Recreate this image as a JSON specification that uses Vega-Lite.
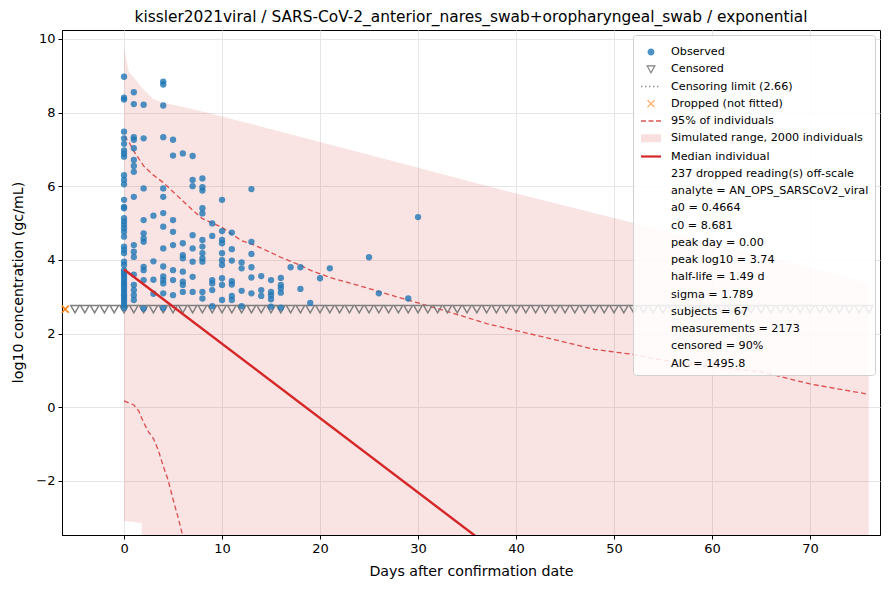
{
  "$schema": "https://vega.github.io/schema/vega-lite/v6.json",
  "width": 818,
  "height": 505,
  "autosize": "none",
  "padding": {"left": 62, "top": 30, "right": 10, "bottom": 55},
  "title": {
    "text": "kissler2021viral / SARS-CoV-2_anterior_nares_swab+oropharyngeal_swab / exponential",
    "fontSize": 15.4,
    "fontWeight": "normal",
    "font": "DejaVu Sans",
    "color": "#000000",
    "offset": 5
  },
  "config": {
    "font": "DejaVu Sans",
    "view": {"stroke": "#000000", "strokeWidth": 1},
    "axis": {
      "labelFont": "DejaVu Sans",
      "labelFontSize": 13,
      "labelColor": "#000000",
      "titleFont": "DejaVu Sans",
      "titleFontSize": 14.2,
      "titleFontWeight": "normal",
      "titleColor": "#000000",
      "gridColor": "#e6e6e6",
      "gridWidth": 1,
      "domainColor": "#000000",
      "tickColor": "#000000",
      "tickSize": 4,
      "labelPadding": 3
    },
    "legend": {
      "labelFont": "DejaVu Sans",
      "labelFontSize": 11.2,
      "labelColor": "#000000",
      "labelLimit": 400
    }
  },
  "datasets": {
    "obs": [
      {"day": 0, "v": 8.97}, {"day": 0, "v": 8.40}, {"day": 0, "v": 8.35}, {"day": 0, "v": 7.48}, {"day": 0, "v": 7.30},
      {"day": 0, "v": 7.15}, {"day": 0, "v": 6.97}, {"day": 0, "v": 6.88}, {"day": 0, "v": 6.80}, {"day": 0, "v": 6.30},
      {"day": 0, "v": 6.17}, {"day": 0, "v": 6.05}, {"day": 0, "v": 5.63}, {"day": 0, "v": 5.44}, {"day": 0, "v": 5.40},
      {"day": 0, "v": 5.13}, {"day": 0, "v": 5.04}, {"day": 0, "v": 4.95}, {"day": 0, "v": 4.86}, {"day": 0, "v": 4.76},
      {"day": 0, "v": 4.63}, {"day": 0, "v": 4.36}, {"day": 0, "v": 4.27}, {"day": 0, "v": 4.18}, {"day": 0, "v": 3.95},
      {"day": 0, "v": 3.86}, {"day": 0, "v": 3.72}, {"day": 0, "v": 3.65}, {"day": 0, "v": 3.59}, {"day": 0, "v": 3.52},
      {"day": 0, "v": 3.45}, {"day": 0, "v": 3.38}, {"day": 0, "v": 3.32}, {"day": 0, "v": 3.25}, {"day": 0, "v": 3.18},
      {"day": 0, "v": 3.11}, {"day": 0, "v": 3.04}, {"day": 0, "v": 2.98}, {"day": 0, "v": 2.91}, {"day": 0, "v": 2.84},
      {"day": 0, "v": 2.77}, {"day": 0, "v": 2.69},
      {"day": 1, "v": 8.55}, {"day": 1, "v": 8.23}, {"day": 1, "v": 7.33}, {"day": 1, "v": 7.26}, {"day": 1, "v": 7.03},
      {"day": 1, "v": 6.71}, {"day": 1, "v": 6.55}, {"day": 1, "v": 6.39}, {"day": 1, "v": 5.71}, {"day": 1, "v": 4.40},
      {"day": 1, "v": 4.22}, {"day": 1, "v": 4.08}, {"day": 1, "v": 3.60}, {"day": 1, "v": 3.32}, {"day": 1, "v": 3.18},
      {"day": 1, "v": 3.04}, {"day": 1, "v": 2.91},
      {"day": 2, "v": 8.21}, {"day": 2, "v": 7.30}, {"day": 2, "v": 5.94}, {"day": 2, "v": 5.08}, {"day": 2, "v": 4.72},
      {"day": 2, "v": 4.58}, {"day": 2, "v": 4.49}, {"day": 2, "v": 3.81}, {"day": 2, "v": 3.72}, {"day": 2, "v": 3.45},
      {"day": 2, "v": 2.68},
      {"day": 3, "v": 5.20}, {"day": 3, "v": 3.96}, {"day": 3, "v": 3.46}, {"day": 3, "v": 3.08},
      {"day": 4, "v": 8.84}, {"day": 4, "v": 8.76}, {"day": 4, "v": 8.19}, {"day": 4, "v": 7.33}, {"day": 4, "v": 5.94},
      {"day": 4, "v": 5.71}, {"day": 4, "v": 5.27}, {"day": 4, "v": 4.90}, {"day": 4, "v": 4.31}, {"day": 4, "v": 3.82},
      {"day": 4, "v": 3.55}, {"day": 4, "v": 3.45}, {"day": 4, "v": 3.36}, {"day": 4, "v": 3.09}, {"day": 4, "v": 2.69},
      {"day": 5, "v": 7.26}, {"day": 5, "v": 6.83}, {"day": 5, "v": 5.08}, {"day": 5, "v": 4.76}, {"day": 5, "v": 4.40},
      {"day": 5, "v": 3.72}, {"day": 5, "v": 3.45}, {"day": 5, "v": 3.04},
      {"day": 6, "v": 6.89}, {"day": 6, "v": 4.45}, {"day": 6, "v": 4.13}, {"day": 6, "v": 4.04}, {"day": 6, "v": 3.68},
      {"day": 6, "v": 3.41}, {"day": 6, "v": 3.32}, {"day": 6, "v": 3.13},
      {"day": 7, "v": 6.82}, {"day": 7, "v": 6.17}, {"day": 7, "v": 6.00}, {"day": 7, "v": 4.67}, {"day": 7, "v": 4.31},
      {"day": 7, "v": 3.95}, {"day": 7, "v": 3.54}, {"day": 7, "v": 3.13},
      {"day": 8, "v": 6.21}, {"day": 8, "v": 5.97}, {"day": 8, "v": 5.88}, {"day": 8, "v": 5.40}, {"day": 8, "v": 5.26},
      {"day": 8, "v": 4.54}, {"day": 8, "v": 4.36}, {"day": 8, "v": 4.18}, {"day": 8, "v": 4.04}, {"day": 8, "v": 3.95},
      {"day": 8, "v": 3.13}, {"day": 8, "v": 2.95},
      {"day": 9, "v": 4.99}, {"day": 9, "v": 4.65}, {"day": 9, "v": 3.45}, {"day": 9, "v": 3.36}, {"day": 9, "v": 3.18},
      {"day": 9, "v": 2.74},
      {"day": 10, "v": 5.63}, {"day": 10, "v": 4.78}, {"day": 10, "v": 4.54}, {"day": 10, "v": 4.45}, {"day": 10, "v": 4.18},
      {"day": 10, "v": 3.99}, {"day": 10, "v": 3.86}, {"day": 10, "v": 3.50}, {"day": 10, "v": 3.32}, {"day": 10, "v": 2.91},
      {"day": 11, "v": 4.74}, {"day": 11, "v": 4.29}, {"day": 11, "v": 3.98}, {"day": 11, "v": 3.42}, {"day": 11, "v": 3.33},
      {"day": 11, "v": 3.02}, {"day": 11, "v": 2.91},
      {"day": 12, "v": 3.93}, {"day": 12, "v": 3.77}, {"day": 12, "v": 3.16}, {"day": 12, "v": 2.74},
      {"day": 13, "v": 5.92}, {"day": 13, "v": 4.49}, {"day": 13, "v": 4.16}, {"day": 13, "v": 3.80}, {"day": 13, "v": 3.52},
      {"day": 13, "v": 3.09},
      {"day": 14, "v": 3.56}, {"day": 14, "v": 3.18}, {"day": 14, "v": 3.02},
      {"day": 15, "v": 3.45}, {"day": 15, "v": 3.13}, {"day": 15, "v": 3.04}, {"day": 15, "v": 2.93}, {"day": 15, "v": 2.73},
      {"day": 16, "v": 3.51}, {"day": 16, "v": 3.32}, {"day": 16, "v": 3.23}, {"day": 16, "v": 3.11}, {"day": 16, "v": 2.70},
      {"day": 17, "v": 3.80}, {"day": 18, "v": 3.80}, {"day": 18, "v": 3.21}, {"day": 19, "v": 2.83},
      {"day": 20, "v": 3.50}, {"day": 21, "v": 3.77}, {"day": 25, "v": 4.07}, {"day": 26, "v": 3.09},
      {"day": 29, "v": 2.95}, {"day": 30, "v": 5.16}
    ],
    "cens": [
      {"day": -5}, {"day": -4}, {"day": -3}, {"day": -2}, {"day": -1}, {"day": 0}, {"day": 1}, {"day": 2}, {"day": 3},
      {"day": 4}, {"day": 5}, {"day": 6}, {"day": 7}, {"day": 8}, {"day": 9}, {"day": 10}, {"day": 11}, {"day": 12},
      {"day": 13}, {"day": 14}, {"day": 15}, {"day": 16}, {"day": 17}, {"day": 18}, {"day": 19}, {"day": 20}, {"day": 21},
      {"day": 22}, {"day": 23}, {"day": 24}, {"day": 25}, {"day": 26}, {"day": 27}, {"day": 28}, {"day": 29}, {"day": 30},
      {"day": 31}, {"day": 32}, {"day": 33}, {"day": 34}, {"day": 35}, {"day": 36}, {"day": 37}, {"day": 38}, {"day": 39},
      {"day": 40}, {"day": 41}, {"day": 42}, {"day": 43}, {"day": 44}, {"day": 45}, {"day": 46}, {"day": 47}, {"day": 48},
      {"day": 49}, {"day": 50}, {"day": 51}, {"day": 52}, {"day": 53}, {"day": 54}, {"day": 55}, {"day": 56}, {"day": 57},
      {"day": 58}, {"day": 59}, {"day": 60}, {"day": 61}, {"day": 62}, {"day": 63}, {"day": 64}, {"day": 65}, {"day": 66},
      {"day": 67}, {"day": 68}, {"day": 69}, {"day": 70}, {"day": 71}, {"day": 72}, {"day": 73}, {"day": 74}, {"day": 75},
      {"day": 76}
    ],
    "band": [
      {"day": 0, "hi": 9.75, "lo": -3.1}, {"day": 0.5, "hi": 9.1, "lo": -3.1}, {"day": 1, "hi": 8.95, "lo": -3.12},
      {"day": 1.8, "hi": 8.68, "lo": -3.15}, {"day": 1.9, "hi": 8.65, "lo": -6}, {"day": 3, "hi": 8.36, "lo": -6},
      {"day": 4, "hi": 8.27, "lo": -6}, {"day": 8, "hi": 8.03, "lo": -6}, {"day": 20, "hi": 7.2, "lo": -6},
      {"day": 30, "hi": 6.5, "lo": -6}, {"day": 40, "hi": 5.8, "lo": -6}, {"day": 52, "hi": 5.0, "lo": -6},
      {"day": 64, "hi": 4.2, "lo": -6}, {"day": 76, "hi": 3.37, "lo": -6}
    ],
    "upper95": [
      {"day": 0, "v": 7.35}, {"day": 0.5, "v": 7.2}, {"day": 1, "v": 6.95}, {"day": 2, "v": 6.55}, {"day": 3, "v": 6.3},
      {"day": 4, "v": 6.1}, {"day": 5, "v": 5.85}, {"day": 6, "v": 5.6}, {"day": 7, "v": 5.35}, {"day": 8, "v": 5.12},
      {"day": 9, "v": 5.0}, {"day": 10, "v": 4.88}, {"day": 11, "v": 4.7}, {"day": 12, "v": 4.52}, {"day": 13, "v": 4.43},
      {"day": 14, "v": 4.32}, {"day": 16, "v": 4.07}, {"day": 18, "v": 3.85}, {"day": 19, "v": 3.72}, {"day": 21, "v": 3.52},
      {"day": 24, "v": 3.3}, {"day": 26.5, "v": 3.1}, {"day": 30, "v": 2.83}, {"day": 33.6, "v": 2.55}, {"day": 37, "v": 2.27},
      {"day": 40, "v": 2.08}, {"day": 44, "v": 1.83}, {"day": 48, "v": 1.57}, {"day": 52, "v": 1.43}, {"day": 54, "v": 1.32},
      {"day": 58, "v": 1.16}, {"day": 62, "v": 1.05}, {"day": 65, "v": 0.96}, {"day": 70, "v": 0.63}, {"day": 76, "v": 0.35}
    ],
    "lower95": [
      {"day": 0, "v": 0.17}, {"day": 1, "v": 0.06}, {"day": 1.5, "v": -0.1}, {"day": 2, "v": -0.42}, {"day": 2.5, "v": -0.67},
      {"day": 3, "v": -0.85}, {"day": 3.5, "v": -1.17}, {"day": 4, "v": -1.6}, {"day": 4.5, "v": -1.98}, {"day": 5, "v": -2.5},
      {"day": 5.5, "v": -2.98}, {"day": 6, "v": -3.5}, {"day": 6.5, "v": -4.0}
    ],
    "median": [
      {"day": 0, "v": 3.74}, {"day": 76, "v": -11.6}
    ],
    "dropped": [
      {"day": -6, "v": 2.66}
    ],
    "legend": [
      {"entry": "Observed"}
    ]
  },
  "layer": [
    {
      "data": {"name": "band"},
      "mark": {"type": "area", "color": "#d62728", "opacity": 0.13, "clip": true},
      "encoding": {
        "x": {"field": "day", "type": "quantitative", "title": "Days after confirmation date",
          "scale": {"domain": [-6.33, 77.14], "nice": false, "zero": false},
          "axis": {"values": [0, 10, 20, 30, 40, 50, 60, 70], "titleY": 36, "titleBaseline": "middle"}},
        "y": {"field": "hi", "type": "quantitative", "title": "log10 concentration (gc/mL)",
          "scale": {"domain": [-3.47, 10.24], "nice": false, "zero": false},
          "axis": {"values": [-2, 0, 2, 4, 6, 8, 10], "titleX": -44, "titleY": 252, "titleAlign": "center", "titleBaseline": "middle", "titleAngle": -90}},
        "y2": {"field": "lo"}
      }
    },
    {
      "data": {"name": "upper95"},
      "mark": {"type": "line", "color": "#d62728", "opacity": 0.8, "strokeWidth": 1.3, "strokeDash": [5, 3], "clip": true},
      "encoding": {
        "x": {"field": "day", "type": "quantitative"},
        "y": {"field": "v", "type": "quantitative"}
      }
    },
    {
      "data": {"name": "lower95"},
      "mark": {"type": "line", "color": "#d62728", "opacity": 0.8, "strokeWidth": 1.3, "strokeDash": [5, 3], "clip": true},
      "encoding": {
        "x": {"field": "day", "type": "quantitative"},
        "y": {"field": "v", "type": "quantitative"}
      }
    },
    {
      "mark": {"type": "rule", "color": "#7f7f7f", "strokeWidth": 1.2, "strokeDash": [1.5, 2.5]},
      "encoding": {"y": {"datum": 2.66}}
    },
    {
      "data": {"name": "cens"},
      "transform": [{"calculate": "2.66", "as": "v"}],
      "mark": {"type": "point", "shape": "triangle-down", "filled": false, "stroke": "#7f7f7f", "strokeWidth": 1.5, "size": 70, "opacity": 1},
      "encoding": {
        "x": {"field": "day", "type": "quantitative"},
        "y": {"field": "v", "type": "quantitative"}
      }
    },
    {
      "data": {"name": "dropped"},
      "mark": {"type": "point", "shape": "M-1,-1L1,1M-1,1L1,-1", "filled": false, "stroke": "#ff7f0e", "strokeWidth": 1.6, "size": 50, "opacity": 1},
      "encoding": {
        "x": {"field": "day", "type": "quantitative"},
        "y": {"field": "v", "type": "quantitative"}
      }
    },
    {
      "data": {"name": "obs"},
      "mark": {"type": "circle", "color": "#1f77b4", "opacity": 0.8, "size": 40},
      "encoding": {
        "x": {"field": "day", "type": "quantitative"},
        "y": {"field": "v", "type": "quantitative"}
      }
    },
    {
      "data": {"name": "median"},
      "mark": {"type": "line", "color": "#d62728", "strokeWidth": 2.4, "clip": true},
      "encoding": {
        "x": {"field": "day", "type": "quantitative"},
        "y": {"field": "v", "type": "quantitative"}
      }
    },
    {
      "data": {"name": "legend"},
      "mark": {"type": "point", "opacity": 1, "strokeWidth": 1.2},
      "encoding": {
        "x": {"field": "nx", "type": "quantitative"},
        "y": {"field": "ny", "type": "quantitative"},
        "fill": {
          "field": "entry", "type": "nominal",
          "scale": {
            "domain": ["Observed", "Censored", "Censoring limit (2.66)", "Dropped (not fitted)", "95% of individuals", "Simulated range, 2000 individuals", "Median individual", "237 dropped reading(s) off-scale", "analyte = AN_OPS_SARSCoV2_viral", "a0 = 0.4664", "c0 = 8.681", "peak day = 0.00", "peak log10 = 3.74", "half-life = 1.49 d", "sigma = 1.789", "subjects = 67", "measurements = 2173", "censored = 90%", "AIC = 1495.8"],
            "range": ["#4c92c3", "transparent", "#8c8c8c", "transparent", "#de5253", "#f9dede", "#d62728", "transparent", "transparent", "transparent", "transparent", "transparent", "transparent", "transparent", "transparent", "transparent", "transparent", "transparent", "transparent"]
          },
          "legend": {
            "title": null,
            "orient": "top-right",
            "offset": 5,
            "padding": 6,
            "fillColor": "rgba(255,255,255,0.85)",
            "strokeColor": "#d0d0d0",
            "cornerRadius": 3,
            "symbolSize": 400,
            "symbolOffset": 1,
            "symbolOpacity": 1,
            "symbolStrokeWidth": 1.2,
            "labelOffset": 9,
            "rowPadding": 0.25
          }
        },
        "stroke": {
          "field": "entry", "type": "nominal",
          "scale": {
            "domain": ["Observed", "Censored", "Censoring limit (2.66)", "Dropped (not fitted)", "95% of individuals", "Simulated range, 2000 individuals", "Median individual", "237 dropped reading(s) off-scale", "analyte = AN_OPS_SARSCoV2_viral", "a0 = 0.4664", "c0 = 8.681", "peak day = 0.00", "peak log10 = 3.74", "half-life = 1.49 d", "sigma = 1.789", "subjects = 67", "measurements = 2173", "censored = 90%", "AIC = 1495.8"],
            "range": ["transparent", "#7f7f7f", "transparent", "#ffae66", "transparent", "transparent", "transparent", "transparent", "transparent", "transparent", "transparent", "transparent", "transparent", "transparent", "transparent", "transparent", "transparent", "transparent", "transparent"]
          },
          "legend": {"title": null}
        },
        "shape": {
          "field": "entry", "type": "nominal",
          "scale": {
            "domain": ["Observed", "Censored", "Censoring limit (2.66)", "Dropped (not fitted)", "95% of individuals", "Simulated range, 2000 individuals", "Median individual", "237 dropped reading(s) off-scale", "analyte = AN_OPS_SARSCoV2_viral", "a0 = 0.4664", "c0 = 8.681", "peak day = 0.00", "peak log10 = 3.74", "half-life = 1.49 d", "sigma = 1.789", "subjects = 67", "measurements = 2173", "censored = 90%", "AIC = 1495.8"],
            "range": [
              "M-0.35,0A0.35,0.35,0,1,0,0.35,0A0.35,0.35,0,1,0,-0.35,0Z",
              "M-0.38,-0.33L0.38,-0.33L0,0.35Z",
              "M-1,-0.07h0.14v0.14h-0.14Z M-0.6,-0.07h0.14v0.14h-0.14Z M-0.2,-0.07h0.14v0.14h-0.14Z M0.2,-0.07h0.14v0.14h-0.14Z M0.6,-0.07h0.14v0.14h-0.14Z",
              "M-0.35,-0.35L0.35,0.35M-0.35,0.35L0.35,-0.35",
              "M-1,-0.07h0.5v0.14h-0.5Z M-0.25,-0.07h0.5v0.14h-0.5Z M0.5,-0.07h0.5v0.14h-0.5Z",
              "M-1,-0.4h2v0.8h-2Z",
              "M-1,-0.11h2v0.22h-2Z",
              "M-0.05,0h0.1", "M-0.05,0h0.1", "M-0.05,0h0.1", "M-0.05,0h0.1", "M-0.05,0h0.1", "M-0.05,0h0.1",
              "M-0.05,0h0.1", "M-0.05,0h0.1", "M-0.05,0h0.1", "M-0.05,0h0.1", "M-0.05,0h0.1", "M-0.05,0h0.1"
            ]
          },
          "legend": {"title": null}
        }
      }
    }
  ]
}
